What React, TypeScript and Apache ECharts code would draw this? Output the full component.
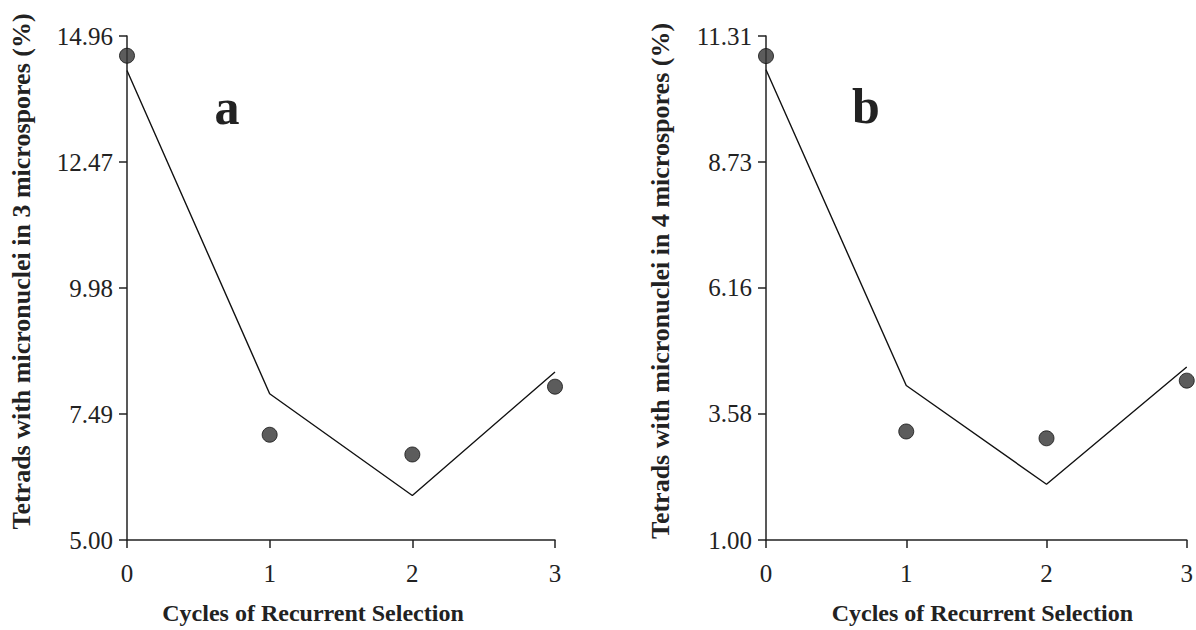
import React, { useEffect, useRef } from "react";
import * as echarts from "echarts";

const cycles = [0, 1, 2, 3];
const observedA = [14.57, 7.08, 6.69, 8.03];
const fittedA = [14.28, 7.89, 5.88, 8.32];
const ticksA = [5.0, 7.49, 9.98, 12.47, 14.96];

const observedB = [10.9, 3.22, 3.08, 4.26];
const fittedB = [10.62, 4.16, 2.14, 4.54];
const ticksB = [1.0, 3.58, 6.16, 8.73, 11.31];

const xTitle = "Cycles of Recurrent Selection";
const yTitleA = "Tetrads with micronuclei in 3 microspores (%)";
const yTitleB = "Tetrads with micronuclei in 4 microspores (%)";

const FONT = "Liberation Serif";

function yAxis(gridIndex: number, ticks: number[], name: string, shift: number) {
  return {
    type: "value",
    gridIndex,
    min: ticks[0],
    max: ticks[ticks.length - 1],
    name,
    nameLocation: "middle",
    nameGap: 93,
    nameTextStyle: {
      fontFamily: FONT,
      fontWeight: "bold",
      fontSize: 26,
      color: "#222",
      padding: [0, 0, 0, shift],
    },
    axisLine: { show: true, lineStyle: { color: "#222", width: 1.5 } },
    axisTick: { show: true, length: 8, lineStyle: { color: "#222", width: 1.5 }, customValues: ticks },
    axisLabel: {
      fontFamily: FONT,
      fontSize: 25,
      color: "#222",
      margin: 14,
      customValues: ticks,
      formatter: (v: number) => v.toFixed(2),
    },
    splitLine: { show: false },
  };
}

function xAxis(gridIndex: number, padLeft: number, padRight: number) {
  return {
    type: "value",
    gridIndex,
    min: 0,
    max: 3,
    interval: 1,
    name: xTitle,
    nameLocation: "middle",
    nameGap: 61,
    nameTextStyle: {
      fontFamily: FONT,
      fontWeight: "bold",
      fontSize: 24,
      color: "#222",
      padding: [0, padRight, 0, padLeft],
    },
    axisLine: { show: true, onZero: false, lineStyle: { color: "#222", width: 1.5 } },
    axisTick: { show: true, length: 8, lineStyle: { color: "#222", width: 1.5 } },
    axisLabel: { fontFamily: FONT, fontSize: 25, color: "#222", margin: 21 },
    splitLine: { show: false },
  };
}

function pairs(ys: number[]) {
  return cycles.map((c, i) => [c, ys[i]]);
}

export default function App() {
  const ref = useRef<HTMLDivElement>(null);
  useEffect(() => {
    document.body.style.margin = "0";
    if (!ref.current) return;
    const chart = echarts.init(ref.current, null, { renderer: "svg" });
    const dot = {
      type: "scatter",
      symbol: "circle",
      symbolSize: 15,
      itemStyle: { color: "#333", borderColor: "#111", borderWidth: 1 },
      z: 3,
    };
    const line = {
      type: "line",
      showSymbol: false,
      symbol: "none",
      lineStyle: { color: "#111", width: 1.4 },
      z: 2,
    };
    chart.setOption({
      animation: false,
      backgroundColor: "#fff",
      grid: [
        { left: 127, top: 36, width: 428, height: 507 },
        { left: 766, top: 36, width: 422, height: 506 },
      ],
      xAxis: [xAxis(0, 0, 56), xAxis(1, 12, 0)],
      yAxis: [yAxis(0, ticksA, yTitleA, 33), yAxis(1, ticksB, yTitleB, 14)],
      series: [
        { ...line, xAxisIndex: 0, yAxisIndex: 0, data: pairs(fittedA) },
        { ...dot, xAxisIndex: 0, yAxisIndex: 0, data: pairs(observedA) },
        { ...line, xAxisIndex: 1, yAxisIndex: 1, data: pairs(fittedB) },
        { ...dot, xAxisIndex: 1, yAxisIndex: 1, data: pairs(observedB) },
      ],
      graphic: [
        {
          type: "text",
          x: 227,
          y: 82,
          style: { text: "a", font: `bold 50px "${FONT}"`, fill: "#222", align: "center", verticalAlign: "top" },
        },
        {
          type: "text",
          x: 866,
          y: 81,
          style: { text: "b", font: `bold 50px "${FONT}"`, fill: "#222", align: "center", verticalAlign: "top" },
        },
      ],
    });
    return () => chart.dispose();
  }, []);
  return <div ref={ref} style={{ width: 1196, height: 630 }} />;
}
